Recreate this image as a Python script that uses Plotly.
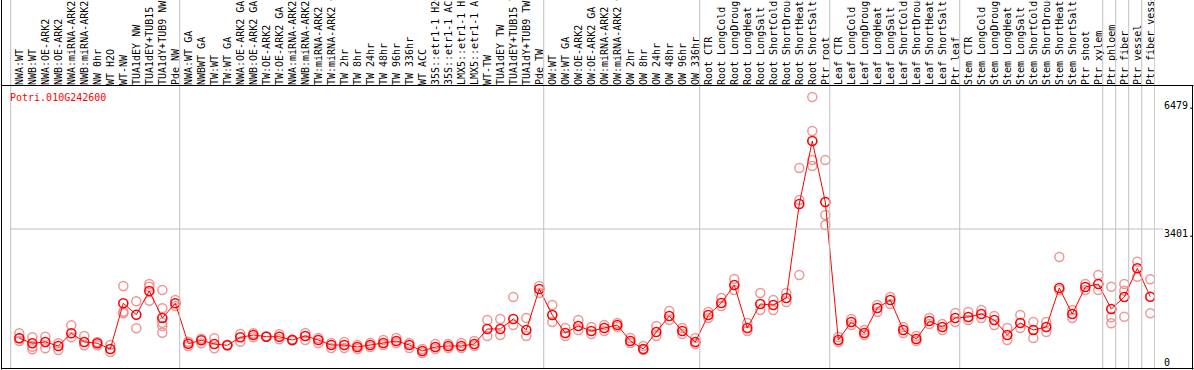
import plotly.graph_objects as go

W, H = 1194, 370

gene = "Potri.010G242600"

group_labels = [
    ["NWA:WT", "NWB:WT", "NWA:OE-ARK2", "NWB:OE-ARK2", "NWA:miRNA-ARK2", "NWB:miRNA-ARK2",
     "NW 0hr", "WT H2O", "WT-NW", "TUA1dEY NW", "TUA1dEY+TUB15 NW", "TUA1dY+TUB9 NW", "Pde NW"],
    ["NWA:WT GA", "NWBWT GA", "TW:WT", "TW:WT GA", "NWA:OE-ARK2 GA", "NWB:OE-ARK2 GA",
     "TW:OE-ARK2", "TW:OE-ARK2 GA", "NWA:miRNA-ARK2 GA", "NWB:miRNA-ARK2 GA", "TW:miRNA-ARK2",
     "TW:miRNA-ARK2 GA", "TW 2hr", "TW 8hr", "TW 24hr", "TW 48hr", "TW 96hr", "TW 336hr",
     "WT ACC", "35S::etr1-1 H2O", "35S::etr1-1 ACC", "LMX5::etr1-1 H2O", "LMX5::etr1-1 ACC",
     "WT-TW", "TUA1dEY TW", "TUA1dEY+TUB15 TW", "TUA1dY+TUB9 TW", "Pde TW"],
    ["OW:WT", "OW:WT GA", "OW:OE-ARK2", "OW:OE-ARK2 GA", "OW:miRNA-ARK2", "OW:miRNA-ARK2 GA",
     "OW 2hr", "OW 8hr", "OW 24hr", "OW 48hr", "OW 96hr", "OW 336hr"],
    ["Root CTR", "Root LongCold", "Root LongDrought", "Root LongHeat", "Root LongSalt",
     "Root ShortCold", "Root ShortDrought", "Root ShortHeat", "Root ShortSalt", "Ptr root"],
    ["Leaf CTR", "Leaf LongCold", "Leaf LongDrought", "Leaf LongHeat", "Leaf LongSalt",
     "Leaf ShortCold", "Leaf ShortDrought", "Leaf ShortHeat", "Leaf ShortSalt", "Ptr leaf"],
    ["Stem CTR", "Stem LongCold", "Stem LongDrought", "Stem LongHeat", "Stem LongSalt",
     "Stem ShortCold", "Stem ShortDrought", "Stem ShortHeat", "Stem ShortSalt", "Ptr shoot",
     "Ptr xylem"],
    ["Ptr phloem"],
    ["Ptr fiber"],
    ["Ptr vessel"],
    ["Ptr fiber vessel"],
]

mean_values = [
    688, 564, 596, 497, 812, 596, 564, 422, 1557, 1274, 1862, 1192, 1557,
    554, 638, 546, 514, 712, 770, 727, 727, 645, 745, 645, 521, 521, 472, 521, 571, 621,
    521, 372, 472, 497, 497, 546, 919, 919, 1167, 894, 1912,
    1266, 819, 993, 869, 943, 1018, 621, 422, 844, 1241, 869, 596,
    1266, 1564, 2011, 943, 1539, 1514, 1688, 4022, 5586, 4071,
    645, 1092, 819, 1440, 1638, 894, 670, 1117, 968, 1192,
    1216, 1291, 1142, 770, 1067, 894, 968, 1936, 1291, 1961, 2036,
    1415, 1713, 2425, 1720,
]

replicate_values = [
    [812, 688, 621], [712, 479, 415], [727, 439], [564, 397], [1010, 712], [745, 514],
    [596, 514], [521, 348], [1986, 1348, 1308], [1606, 936], [2036, 1969, 1621],
    [1887, 1432, 1075, 993, 827], [1638, 1490],
    [603, 497], [678, 564], [688, 439], [514, 530], [794, 603], [812, 712], [727, 740],
    [787, 663], [660, 630], [819, 645], [695, 571], [571, 447], [596, 447], [521, 422],
    [571, 472], [645, 521], [695, 571], [571, 447], [422, 323], [546, 422], [546, 447],
    [571, 447], [621, 497], [1142, 745], [1167, 770], [1713, 1018], [1192, 745], [1986, 1812],
    [1514, 1092], [943, 745], [1142, 894], [968, 794], [1018, 869], [1067, 968], [695, 571],
    [497, 397], [993, 745], [1365, 1142], [943, 794], [695, 546],
    [1341, 1192], [1688, 1490], [2160, 1887], [1067, 869], [1812, 1390], [1638, 1390],
    [1812, 1589], [4915, 4121, 2259], [6678, 5834, 5114, 4965], [5114, 3749, 3500],
    [720, 596], [1167, 1018], [894, 770], [1514, 1341], [1713, 1539], [968, 819], [745, 621],
    [1192, 1043], [1043, 894], [1316, 1092],
    [1341, 1142], [1390, 1192], [1241, 1018], [943, 645], [1266, 943], [1092, 695],
    [1092, 844], [2706, 1887], [1390, 1192], [2036, 1887], [2259, 1887],
    [1969, 1209, 1060], [2036, 1869, 1224], [2589, 2217], [2152, 1308],
]

y_tick_values = [0, 3401, 6479]
y_tick_text = ["0", "3401.", "6479."]
grid_value = 3401

labels = [lab for g in group_labels for lab in g]
n = len(labels)
xs = list(range(n))

rep_x, rep_y = [], []
for i, reps in enumerate(replicate_values):
    for v in reps:
        rep_x.append(i)
        rep_y.append(v)

FONT = "DejaVu Sans Mono"
RED = "#ff0000"
PINK = "rgba(236,140,140,0.9)"
GRAY = "#c0c0c0"

def px(x):
    return x / W

def py(y):
    return 1 - y / H

plot_left, plot_right, plot_top, plot_bottom = 10, 1155, 86, 369
x0_px, step_px = 19.3, 13.0
xr = [(plot_left - x0_px) / step_px, (plot_right - x0_px) / step_px]
zero_px, grid_px = 366.0, 229.0
scale = (zero_px - grid_px) / grid_value
yr = [-(plot_bottom - zero_px) / scale, (zero_px - plot_top) / scale]

fig = go.Figure()
fig.add_trace(go.Scatter(
    x=rep_x, y=rep_y, mode="markers",
    marker=dict(symbol="circle-open", size=9, color=PINK, line=dict(width=1.5, color=PINK)),
    hoverinfo="skip", showlegend=False,
))
fig.add_trace(go.Scatter(
    x=xs, y=mean_values, mode="lines+markers",
    line=dict(color=RED, width=1),
    marker=dict(symbol="circle-open", size=9, color=RED, line=dict(width=1.6, color=RED)),
    showlegend=False,
))

shapes = []
start = 0
bounds = [0]
for g in group_labels:
    start += len(g)
    bounds.append(start)
for b in bounds:
    shapes.append(dict(type="line", xref="x", yref="paper", x0=b - 0.66, x1=b - 0.66,
                       y0=py(369), y1=1, line=dict(color=GRAY, width=1)))
shapes.append(dict(type="line", xref="paper", yref="y", x0=px(plot_left), x1=px(1163),
                   y0=grid_value, y1=grid_value, line=dict(color=GRAY, width=1)))
shapes.append(dict(type="line", xref="paper", yref="paper", x0=px(1.5), x1=px(1.5), y0=py(369.5), y1=1,
                   line=dict(color="black", width=1)))
shapes.append(dict(type="line", xref="paper", yref="paper", x0=px(1), x1=px(1193.5), y0=py(85.5), y1=py(85.5),
                   line=dict(color="black", width=1)))
shapes.append(dict(type="line", xref="paper", yref="paper", x0=px(1192.5), x1=px(1192.5), y0=py(369.5), y1=py(85.5),
                   line=dict(color="black", width=1)))
shapes.append(dict(type="line", xref="paper", yref="paper", x0=px(1), x1=px(1193.5), y0=py(368.5), y1=py(368.5),
                   line=dict(color="black", width=1)))

annotations = [dict(
    text=gene, xref="paper", yref="paper", x=px(8), y=py(97), xanchor="left", yanchor="middle",
    showarrow=False, font=dict(family=FONT, size=10, color=RED),
)]
label_shift = {0: 4, 3401: -4, 6479: 0}
for v, t in zip(y_tick_values, y_tick_text):
    annotations.append(dict(
        text=t, xref="paper", yref="y", x=px(1162), y=v, xanchor="left", yanchor="middle",
        yshift=label_shift[v], showarrow=False, font=dict(family=FONT, size=10, color="black"),
    ))

fig.update_layout(
    width=W, height=H,
    margin=dict(l=0, r=0, t=0, b=0),
    paper_bgcolor="white", plot_bgcolor="white",
    shapes=shapes,
    annotations=annotations,
    xaxis=dict(
        domain=[px(plot_left), px(plot_right)], range=xr,
        side="top", tickmode="array", tickvals=xs, ticktext=labels,
        tickangle=-90, tickfont=dict(family=FONT, size=10, color="black"),
        showgrid=False, zeroline=False, showline=False, ticks="", automargin=False,
        fixedrange=True,
    ),
    yaxis=dict(
        domain=[py(plot_bottom), py(plot_top)], range=yr,
        side="right", showticklabels=False,
        showgrid=False, zeroline=False, showline=False, ticks="",
        automargin=False, fixedrange=True,
    ),
)

fig.write_html("out.html", config={"displayModeBar": False, "staticPlot": True},
               post_script="document.body.style.margin='0';document.body.style.overflow='hidden';")
